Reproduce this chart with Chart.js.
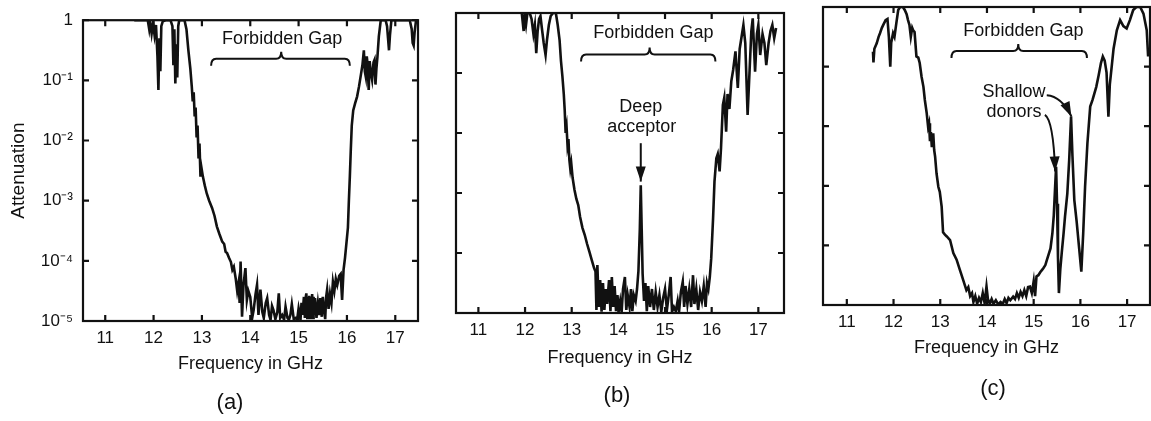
<!DOCTYPE html>
<html>
<head>
<meta charset="utf-8">
<script src="https://cdn.jsdelivr.net/npm/chart.js@4.4.1/dist/chart.umd.min.js"></script>
<style>
  html, body { margin: 0; background: #fff; }
  #wrap { position: relative; width: 1151px; height: 421px; overflow: hidden; font-family: 'Liberation Sans', Arial, sans-serif; color: #111; }
  canvas { position: absolute; top: 0; }
  .tag { position: absolute; font-size: 22px; transform: translate(-50%, -50%); }
</style>
</head>
<body>
<div id="wrap">
  <canvas id="chart-a" width="430" height="421" style="left:0;width:430px;height:421px"></canvas>
  <canvas id="chart-b" width="370" height="421" style="left:430px;width:370px;height:421px"></canvas>
  <canvas id="chart-c" width="351" height="421" style="left:800px;width:351px;height:421px"></canvas>
  <div class="tag" style="left:230px;top:402px">(a)</div>
  <div class="tag" style="left:617px;top:395px">(b)</div>
  <div class="tag" style="left:993px;top:388px">(c)</div>
</div>
<script>
// tick values shared by the three panels
const freqTicks = [11, 12, 13, 14, 15, 16, 17];
const attTicks = [1e-5, 1e-4, 1e-3, 1e-2, 1e-1, 1];

// [frequency GHz, log10(attenuation)]
const spectrumA = [
  [11.60,0],[11.88,0],[11.91,-0.15],[11.93,-0.03],[11.96,-0.22],[11.99,-0.05],[12.02,-0.25],[12.05,-0.08],
  [12.08,-0.6],[12.10,-1.16],[12.12,-0.3],[12.14,-0.85],[12.16,-0.1],[12.19,-0.02],[12.25,0],[12.35,0],
  [12.39,-0.1],[12.41,-0.75],[12.43,-0.15],[12.45,-1.05],[12.47,-0.4],[12.49,-0.95],[12.51,-0.1],[12.53,0],
  [12.64,0],[12.68,-0.15],[12.72,-0.5],[12.76,-0.8],[12.79,-1.1],[12.81,-1.35],[12.83,-1.2],[12.85,-1.6],
  [12.87,-1.45],[12.89,-1.95],[12.91,-1.75],[12.93,-2.3],[12.95,-2.05],[12.97,-2.6],[12.99,-2.45],[13.02,-2.6],
  [13.06,-2.75],[13.10,-2.88],[13.15,-3.0],[13.21,-3.12],[13.26,-3.25],[13.31,-3.43],[13.36,-3.55],[13.42,-3.68],
  [13.46,-3.72],[13.49,-3.85],[13.52,-3.87],[13.56,-3.95],[13.60,-4.02],[13.63,-4.15],[13.66,-4.1],[13.70,-4.3],
  [13.73,-4.5],[13.76,-4.35],[13.78,-4.7],[13.80,-4.01],[13.83,-4.93],[13.86,-4.4],[13.90,-4.12],[13.93,-4.65],
  [13.96,-4.5],[14.00,-4.6],[14.04,-4.95],[14.07,-4.82],[14.11,-4.55],[14.14,-4.40],[14.17,-4.9],[14.21,-4.48],
  [14.25,-4.85],[14.28,-4.95],[14.32,-4.7],[14.35,-4.62],[14.39,-4.9],[14.42,-4.98],[14.45,-4.75],[14.48,-4.82],
  [14.52,-4.97],[14.56,-4.85],[14.59,-4.54],[14.62,-4.95],[14.66,-4.9],[14.70,-4.98],[14.73,-4.76],[14.77,-4.95],
  [14.80,-4.98],[14.83,-4.9],[14.86,-4.72],[14.90,-4.97],[14.94,-4.95],[14.97,-4.98],[15.00,-4.79],[15.04,-4.97],
  [15.06,-4.7],[15.08,-4.9],[15.11,-4.6],[15.13,-4.95],[15.14,-4.65],[15.16,-4.54],[15.18,-4.95],[15.19,-4.6],
  [15.21,-4.9],[15.22,-4.58],[15.24,-4.95],[15.25,-4.6],[15.27,-4.9],[15.28,-4.55],[15.30,-4.95],[15.31,-4.6],
  [15.33,-4.9],[15.34,-4.62],[15.37,-4.95],[15.40,-4.7],[15.43,-4.9],[15.45,-4.62],[15.48,-4.93],[15.50,-4.6],
  [15.52,-4.75],[15.55,-4.97],[15.57,-4.6],[15.59,-4.48],[15.62,-4.8],[15.65,-4.55],[15.68,-4.7],[15.71,-4.35],
  [15.74,-4.5],[15.77,-4.3],[15.80,-4.4],[15.84,-4.25],[15.87,-4.22],[15.90,-4.65],[15.93,-4.15],[15.96,-3.95],
  [15.99,-3.7],[16.02,-3.45],[16.04,-3.0],[16.06,-2.6],[16.08,-2.15],[16.10,-1.75],[16.13,-1.5],[16.17,-1.38],
  [16.21,-1.27],[16.25,-1.1],[16.29,-0.9],[16.32,-0.75],[16.35,-0.5],[16.37,-0.85],[16.39,-0.94],[16.41,-0.6],
  [16.43,-0.75],[16.45,-1.16],[16.47,-0.68],[16.50,-0.9],[16.52,-0.99],[16.55,-0.7],[16.57,-0.66],[16.59,-1.07],
  [16.61,-0.8],[16.63,-0.62],[16.66,-0.27],[16.70,0],[16.80,0],[16.83,-0.1],[16.85,-0.3],[16.87,-0.5],
  [16.89,-0.25],[16.92,0],[17.30,0],[17.34,-0.15],[17.36,-0.38],[17.38,-0.42],[17.40,-0.2],[17.43,0],[17.47,0]
];

const spectrumB = [
  [11.93,0],[11.97,-0.3],[11.99,-0.05],[12.02,-0.2],[12.05,0],[12.10,0],[12.14,-0.1],[12.18,-0.35],
  [12.21,-0.2],[12.24,-0.67],[12.27,-0.3],[12.30,-0.1],[12.33,-0.05],[12.36,-0.25],[12.40,-0.5],[12.44,-0.7],
  [12.47,-0.45],[12.51,-0.2],[12.55,-0.05],[12.60,0],[12.66,0],[12.70,-0.2],[12.74,-0.45],[12.77,-0.8],
  [12.80,-1.05],[12.83,-1.35],[12.85,-1.62],[12.87,-2.0],[12.89,-1.9],[12.91,-2.2],[12.93,-2.1],[12.95,-2.45],
  [12.97,-2.6],[12.99,-2.5],[13.02,-2.75],[13.06,-2.95],[13.10,-3.1],[13.14,-3.2],[13.18,-3.4],[13.23,-3.58],
  [13.28,-3.7],[13.33,-3.85],[13.38,-3.98],[13.43,-4.12],[13.48,-4.25],[13.51,-4.31],[13.53,-4.95],[13.55,-4.2],
  [13.58,-4.9],[13.61,-4.45],[13.64,-4.98],[13.67,-4.5],[13.70,-4.95],[13.73,-4.6],[13.76,-4.85],[13.80,-4.45],
  [13.83,-4.97],[13.86,-4.4],[13.89,-4.9],[13.92,-4.55],[13.95,-4.97],[13.98,-4.7],[14.01,-4.95],[14.04,-4.8],
  [14.07,-4.98],[14.10,-4.6],[14.14,-4.4],[14.17,-4.95],[14.20,-4.7],[14.24,-4.9],[14.27,-4.6],[14.30,-4.97],
  [14.33,-4.7],[14.37,-4.8],[14.40,-4.6],[14.43,-4.3],[14.46,-3.6],[14.48,-2.87],[14.50,-3.6],[14.52,-4.35],
  [14.55,-4.8],[14.58,-4.5],[14.61,-4.97],[14.64,-4.55],[14.68,-4.9],[14.72,-4.6],[14.76,-4.95],[14.80,-4.65],
  [14.84,-4.9],[14.88,-4.7],[14.92,-4.98],[14.96,-4.75],[15.00,-4.6],[15.04,-4.95],[15.08,-4.7],[15.12,-4.4],
  [15.15,-4.98],[15.19,-4.9],[15.23,-4.97],[15.27,-4.8],[15.30,-4.98],[15.34,-4.65],[15.38,-4.48],[15.41,-4.9],
  [15.44,-4.55],[15.48,-4.85],[15.52,-4.6],[15.56,-4.9],[15.60,-4.37],[15.63,-4.85],[15.67,-4.6],[15.71,-4.95],
  [15.75,-4.65],[15.79,-4.8],[15.83,-4.55],[15.87,-4.9],[15.90,-4.5],[15.93,-4.6],[15.96,-4.4],[15.99,-4.09],
  [16.03,-3.42],[16.06,-2.81],[16.10,-2.42],[16.13,-2.35],[16.17,-2.64],[16.20,-2.25],[16.24,-1.53],[16.27,-1.41],
  [16.31,-1.98],[16.34,-1.35],[16.38,-1.6],[16.42,-1.14],[16.46,-0.95],[16.51,-0.64],[16.56,-1.25],[16.60,-0.6],
  [16.65,-0.35],[16.68,-0.2],[16.72,-0.5],[16.77,-1.7],[16.81,-1.0],[16.85,-0.3],[16.88,-0.09],[16.93,-0.98],
  [16.97,-0.35],[17.00,-0.2],[17.04,-0.7],[17.09,-0.35],[17.13,-0.5],[17.17,-0.87],[17.22,-0.5],[17.26,-0.3],
  [17.30,-0.2],[17.34,-0.42],[17.38,-0.25]
];

const spectrumC = [
  [11.56,-0.75],[11.57,-0.93],[11.59,-0.7],[11.64,-0.61],[11.68,-0.5],[11.71,-0.44],[11.75,-0.35],[11.78,-0.30],
  [11.83,-0.22],[11.87,-0.2],[11.90,-0.5],[11.93,-1.0],[11.95,-0.6],[11.99,-0.44],[12.02,-0.5],[12.06,-0.27],
  [12.10,-0.05],[12.14,0],[12.20,0],[12.24,-0.05],[12.28,-0.12],[12.31,-0.22],[12.34,-0.3],[12.37,-0.5],
  [12.40,-0.35],[12.42,-0.39],[12.45,-0.42],[12.49,-0.83],[12.53,-0.85],[12.56,-0.94],[12.60,-1.17],[12.64,-1.34],
  [12.67,-1.56],[12.71,-1.78],[12.74,-2.01],[12.76,-1.95],[12.78,-2.25],[12.80,-2.1],[12.82,-2.35],[12.85,-2.12],
  [12.87,-2.4],[12.89,-2.51],[12.92,-2.79],[12.96,-3.02],[12.99,-3.1],[13.03,-3.35],[13.06,-3.78],[13.10,-3.82],
  [13.14,-3.85],[13.21,-3.91],[13.28,-4.13],[13.35,-4.24],[13.42,-4.41],[13.49,-4.58],[13.56,-4.75],[13.60,-4.7],
  [13.64,-4.85],[13.68,-4.8],[13.71,-4.95],[13.75,-4.85],[13.79,-4.98],[13.83,-4.88],[13.87,-4.95],[13.91,-4.8],
  [13.95,-4.97],[13.99,-4.69],[14.02,-4.9],[14.06,-4.98],[14.10,-4.9],[14.14,-4.98],[14.19,-4.92],[14.24,-4.99],
  [14.29,-4.95],[14.34,-4.98],[14.38,-4.9],[14.42,-4.97],[14.46,-4.88],[14.50,-4.92],[14.56,-4.86],[14.60,-4.9],
  [14.64,-4.8],[14.68,-4.88],[14.72,-4.78],[14.76,-4.85],[14.80,-4.75],[14.84,-4.85],[14.88,-4.7],[14.92,-4.69],
  [14.96,-4.8],[15.00,-4.6],[15.03,-4.85],[15.06,-4.52],[15.10,-4.5],[15.14,-4.45],[15.18,-4.41],[15.21,-4.38],
  [15.25,-4.33],[15.28,-4.25],[15.32,-4.15],[15.36,-4.05],[15.40,-3.8],[15.43,-3.5],[15.46,-3.0],[15.48,-2.68],
  [15.50,-3.3],[15.52,-4.2],[15.54,-4.8],[15.57,-4.4],[15.60,-4.13],[15.64,-3.8],[15.67,-3.52],[15.72,-3.13],
  [15.76,-2.57],[15.80,-1.84],[15.83,-2.5],[15.87,-3.24],[15.92,-3.6],[15.97,-4.02],[16.02,-4.44],[16.06,-3.8],
  [16.10,-3.02],[16.15,-2.29],[16.21,-1.67],[16.26,-1.56],[16.30,-1.45],[16.34,-1.34],[16.39,-1.15],[16.44,-0.94],
  [16.48,-0.83],[16.52,-0.9],[16.56,-1.1],[16.60,-1.84],[16.63,-1.3],[16.67,-1.0],[16.71,-0.7],[16.78,-0.39],
  [16.85,-0.22],[16.92,-0.32],[16.99,-0.36],[17.06,-0.22],[17.13,-0.05],[17.20,0],[17.28,0],[17.35,-0.11],
  [17.42,-0.39],[17.45,-0.83],[17.47,-0.7]
];

const INK = '#111';
const FONT = "'Liberation Sans', Arial, sans-serif";
const TICK = 6;
const SUP = { '-': '\u207B', '0': '\u2070', '1': '\u00B9', '2': '\u00B2', '3': '\u00B3', '4': '\u2074', '5': '\u2075' };

function decadeLabel(v) {
  const p = Math.round(Math.log10(v));
  return p === 0 ? '1' : '10' + String(p).split('').map(c => SUP[c]).join('');
}

// box round the plot with inward ticks on all four sides
const framePlugin = {
  id: 'frame',
  afterDatasetsDraw(chart) {
    const { ctx, chartArea: a, scales: { x, y } } = chart;
    ctx.save();
    ctx.strokeStyle = INK;
    ctx.lineWidth = 2.2;
    ctx.strokeRect(a.left, a.top, a.right - a.left, a.bottom - a.top);
    ctx.beginPath();
    freqTicks.forEach(v => {
      const px = x.getPixelForValue(v);
      ctx.moveTo(px, a.bottom); ctx.lineTo(px, a.bottom - TICK);
      ctx.moveTo(px, a.top); ctx.lineTo(px, a.top + TICK);
    });
    attTicks.forEach(v => {
      const py = y.getPixelForValue(v);
      ctx.moveTo(a.left, py); ctx.lineTo(a.left + TICK, py);
      ctx.moveTo(a.right, py); ctx.lineTo(a.right - TICK, py);
    });
    ctx.stroke();
    ctx.restore();
  }
};

function at(chart, f, lg) {
  return [chart.scales.x.getPixelForValue(f), chart.scales.y.getPixelForValue(10 ** lg)];
}

function label(chart, text, f, lg) {
  const [px, py] = at(chart, f, lg);
  const { ctx } = chart;
  ctx.fillStyle = INK;
  ctx.font = '18px ' + FONT;
  ctx.textAlign = 'center';
  ctx.textBaseline = 'middle';
  ctx.fillText(text, px, py);
}

function brace(chart, f1, f2, fm, lg) {
  const { ctx } = chart;
  const [x1, yb] = at(chart, f1, lg);
  const [x2] = at(chart, f2, lg);
  const [xm] = at(chart, fm, lg);
  ctx.strokeStyle = INK;
  ctx.lineWidth = 2;
  ctx.beginPath();
  ctx.moveTo(x1, yb + 7);
  ctx.quadraticCurveTo(x1, yb, x1 + 5, yb);
  ctx.lineTo(xm - 5, yb);
  ctx.quadraticCurveTo(xm, yb, xm, yb - 7);
  ctx.quadraticCurveTo(xm, yb, xm + 5, yb);
  ctx.lineTo(x2 - 5, yb);
  ctx.quadraticCurveTo(x2, yb, x2, yb + 7);
  ctx.stroke();
}

function arrow(chart, from, to, bend) {
  const { ctx } = chart;
  const [x0, y0] = at(chart, ...from);
  const [x1, y1] = at(chart, ...to);
  const [cx, cy] = bend ? at(chart, ...bend) : [x0, y0];
  ctx.strokeStyle = INK;
  ctx.fillStyle = INK;
  ctx.lineWidth = 2;
  ctx.beginPath();
  ctx.moveTo(x0, y0);
  if (bend) ctx.quadraticCurveTo(cx, cy, x1, y1); else ctx.lineTo(x1, y1);
  ctx.stroke();
  const ang = Math.atan2(y1 - cy, x1 - cx);
  const len = 15, half = 5;
  ctx.beginPath();
  ctx.moveTo(x1, y1);
  ctx.lineTo(x1 - len * Math.cos(ang) + half * Math.sin(ang), y1 - len * Math.sin(ang) - half * Math.cos(ang));
  ctx.lineTo(x1 - len * Math.cos(ang) - half * Math.sin(ang), y1 - len * Math.sin(ang) + half * Math.cos(ang));
  ctx.closePath();
  ctx.fill();
}

function notesPlugin(draw) {
  return { id: 'notes', afterDraw(chart) { chart.ctx.save(); draw(chart); chart.ctx.restore(); } };
}

function makeChart(id, spectrum, pane, draw) {
  return new Chart(document.getElementById(id), {
    type: 'line',
    data: {
      datasets: [{
        data: spectrum.map(([f, lg]) => ({ x: f, y: 10 ** lg })),
        borderColor: INK, borderWidth: 2.6, pointRadius: 0, tension: 0
      }]
    },
    options: {
      responsive: false, animation: false, events: [],
      layout: { padding: pane.pad },
      plugins: { legend: { display: false }, tooltip: { enabled: false } },
      scales: {
        x: {
          type: 'linear', min: pane.xMin, max: pane.xMax,
          grid: { display: false, drawTicks: false }, border: { display: false },
          afterBuildTicks: s => { s.ticks = freqTicks.map(v => ({ value: v })); },
          afterFit: s => { s.height = 60; },
          ticks: { color: INK, font: { family: FONT, size: 17 }, padding: 7, maxRotation: 0, autoSkip: false },
          title: { display: true, text: 'Frequency in GHz', color: INK, font: { family: FONT, size: 18 }, padding: { top: 0, bottom: pane.titlePad } }
        },
        y: {
          type: 'logarithmic', min: 1e-5, max: 1,
          grid: { display: false, drawTicks: false }, border: { display: false },
          afterBuildTicks: s => { s.ticks = attTicks.map(v => ({ value: v })); },
          afterFit: s => { s.width = pane.yWidth; },
          ticks: { display: pane.yLabels, color: INK, font: { family: FONT, size: 17 }, padding: 10, callback: v => decadeLabel(v) },
          title: { display: pane.yLabels, text: 'Attenuation', color: INK, font: { family: FONT, size: 19 }, padding: { top: 7, bottom: 0 } }
        }
      }
    },
    plugins: [framePlugin, notesPlugin(draw)]
  });
}

makeChart('chart-a', spectrumA,
  { pad: { left: 0, top: 20, right: 12, bottom: 40 }, yWidth: 83, xMin: 10.54, xMax: 17.47, yLabels: true, titlePad: 6 },
  chart => {
    brace(chart, 13.19, 16.06, 14.64, -0.64);
    label(chart, 'Forbidden Gap', 14.66, -0.32);
  });

makeChart('chart-b', spectrumB,
  { pad: { left: 0, top: 13, right: 16, bottom: 48 }, yWidth: 26, xMin: 10.52, xMax: 17.55, yLabels: false, titlePad: 4 },
  chart => {
    brace(chart, 13.2, 16.08, 14.67, -0.69);
    label(chart, 'Forbidden Gap', 14.75, -0.34);
    label(chart, 'Deep', 14.48, -1.56);
    label(chart, 'acceptor', 14.50, -1.9);
    arrow(chart, [14.48, -2.17], [14.48, -2.81]);
  });

makeChart('chart-c', spectrumC,
  { pad: { left: 0, top: 7, right: 1, bottom: 56 }, yWidth: 23, xMin: 10.49, xMax: 17.49, yLabels: false, titlePad: 6 },
  chart => {
    brace(chart, 13.24, 16.14, 14.67, -0.74);
    label(chart, 'Forbidden Gap', 14.78, -0.40);
    label(chart, 'Shallow', 14.58, -1.42);
    label(chart, 'donors', 14.58, -1.77);
    arrow(chart, [15.28, -1.48], [15.81, -1.84], [15.6, -1.5]);
    arrow(chart, [15.24, -1.81], [15.46, -2.76], [15.42, -1.9]);
  });
</script>
</body>
</html>
